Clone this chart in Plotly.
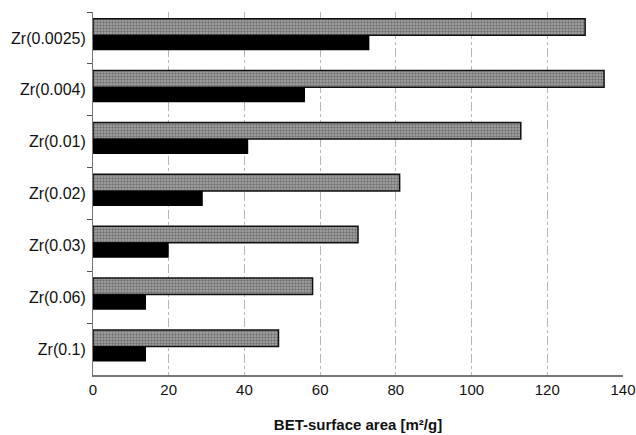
import plotly.graph_objects as go

categories = ["Zr(0.0025)", "Zr(0.004)", "Zr(0.01)", "Zr(0.02)", "Zr(0.03)", "Zr(0.06)", "Zr(0.1)"]
gray_values = [130, 135, 113, 81, 70, 58, 49]
black_values = [73, 56, 41, 29, 20, 14, 14]
x_ticks = [0, 20, 40, 60, 80, 100, 120, 140]

fig = go.Figure()
fig.add_trace(go.Bar(
    y=categories, x=gray_values, orientation="h",
    width=0.32, offset=-0.37,
    marker=dict(color="#8f8f8f",
                line=dict(color="#111111", width=1.5),
                pattern=dict(shape=".", fgcolor="#3a3a3a", bgcolor="#a8a8a8", size=3, solidity=0.5)),
    showlegend=False,
))
fig.add_trace(go.Bar(
    y=categories, x=black_values, orientation="h",
    width=0.29, offset=-0.05,
    marker=dict(color="#000000", line=dict(width=0)),
    showlegend=False,
))

fig.update_layout(
    width=636, height=435,
    margin=dict(l=93, r=13, t=12, b=60),
    plot_bgcolor="white", paper_bgcolor="white",
    barmode="overlay",
    font=dict(family="Liberation Sans, Arial, sans-serif", size=15, color="#111111"),
)
fig.update_xaxes(
    range=[0, 140], tickvals=x_ticks, ticktext=[str(v) for v in x_ticks],
    showgrid=True, gridcolor="#b5b5b5", griddash="dashdot", gridwidth=1,
    showline=True, linecolor="#777777", linewidth=1.5,
    ticks="", zeroline=False, automargin=False,
    tickfont=dict(size=15),
    title=dict(text="<b>BET-surface area [m²/g]</b>", font=dict(size=15), standoff=23),
)
fig.update_yaxes(
    type="category", categoryorder="array", categoryarray=categories,
    autorange="reversed", automargin=False,
    showline=True, linecolor="#777777", linewidth=1,
    ticks="outside", tickson="boundaries", ticklen=5, tickcolor="#555555",
    showgrid=False, zeroline=False,
    tickfont=dict(size=16),
    ticklabelstandoff=3,
)

fig.write_html(
    "out.html",
    config={"displayModeBar": False},
    post_script="document.body.style.margin='0';document.body.style.overflow='hidden';",
)
